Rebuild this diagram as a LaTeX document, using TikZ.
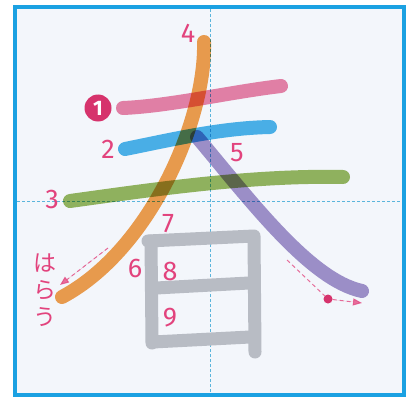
\documentclass[tikz,border=0pt]{standalone}
\usepackage{fontspec}
\newfontfamily\digitfont{Fira Sans}
\newfontfamily\jpfont{Noto Sans CJK JP}
\usetikzlibrary{arrows.meta}
\definecolor{bgc}{HTML}{F3F6FB}
\definecolor{framec}{HTML}{1BA1E2}
\definecolor{guidec}{HTML}{5BB5DC}
\definecolor{pinkc}{HTML}{E9789F}
\definecolor{bluec}{HTML}{3AAEE8}
\definecolor{greenc}{HTML}{8CB150}
\definecolor{orangec}{HTML}{F2963C}
\definecolor{purplec}{HTML}{9A88C6}
\definecolor{grayc}{HTML}{B8BCC4}
\definecolor{labelc}{HTML}{E2437D}
\definecolor{dotc}{HTML}{D6336C}
\begin{document}
\begin{tikzpicture}[x=1pt,y=-1pt,
  stroke/.style={line width=14pt,line cap=round,line join=round,opacity=0.9,blend mode=multiply},
  graystroke/.style={line width=13pt,line cap=round,line join=round,draw=grayc},
  num/.style={text=labelc,font=\digitfont\fontsize{27}{27}\selectfont,inner sep=0pt},
  guide/.style={draw=guidec,line width=0.8pt,dash pattern=on 3pt off 2pt},
  hint/.style={draw=labelc,line width=1pt,dash pattern=on 4pt off 3pt,opacity=0.75},
  hinttip/.style={-{Triangle[length=9pt,width=7pt]}}]
\useasboundingbox (0,0) rectangle (414,401);
\fill[white] (0,0) rectangle (414,401);
\fill[bgc] (15,7) rectangle (404,395);
% guides
\coordinate (gt) at (210,9);
\coordinate (gb) at (210,393);
\coordinate (gl) at (17,201);
\coordinate (gr) at (402,201);
\draw[guide] (gt) -- (gb);
\draw[guide] (gl) -- (gr);
% strokes
\draw[stroke,draw=pinkc] (123,108) .. controls (170,106) and (230,92) .. (281,86);
\draw[stroke,draw=bluec] (125,149) .. controls (170,140) and (220,128) .. (270,127);
\draw[stroke,draw=greenc] (70,201) .. controls (150,190) and (250,175) .. (343,177);
\draw[stroke,draw=orangec] (204,42) .. controls (206,120) and (150,250) .. (62,297);
\draw[stroke,draw=purplec] (197,137) .. controls (250,200) and (310,280) .. (362,291);
% 日
\draw[graystroke] (151,241) -- (152,343);
\draw[graystroke] (148,241) -- (254,236) -- (255,352);
\draw[graystroke] (156,288) -- (249,283);
\draw[graystroke] (153,342) -- (250,337);
% frame
\draw[framec,line width=4pt] (15,7) rectangle (404,395);
% labels
\node[num] (n4) at (188,33) {4};
\node[circle,fill=dotc,minimum size=27pt,inner sep=0pt,text=white,font=\digitfont\bfseries\fontsize{21}{21}\selectfont] (n1) at (98,108) {1};
\node[num] (n2) at (108,149) {2};
\node[num] (n5) at (237,153) {5};
\node[num] (n3) at (52,199) {3};
\node[num] (n7) at (168,224) {7};
\node[num] (n6) at (135,268) {6};
\node[num] (n8) at (170,271) {8};
\node[num] (n9) at (170,318) {9};
\node[text=labelc,font=\jpfont\fontsize{23}{27}\selectfont,align=center,inner sep=0pt] (harau) at (45,290) {は\\ら\\う};
% hint arrows
\coordinate (ha) at (108,248);
\coordinate (hb) at (60,285);
\draw[hint,hinttip,fill=labelc] (ha) -- (hb);
\coordinate (pa) at (287,260);
\node[circle,fill=dotc,minimum size=9pt,inner sep=0pt] (dot) at (328,299) {};
\coordinate (pb) at (362,303);
\draw[hint] (pa) -- (dot);
\draw[hint,hinttip,fill=labelc] (dot) -- (pb);
\end{tikzpicture}
\end{document}
